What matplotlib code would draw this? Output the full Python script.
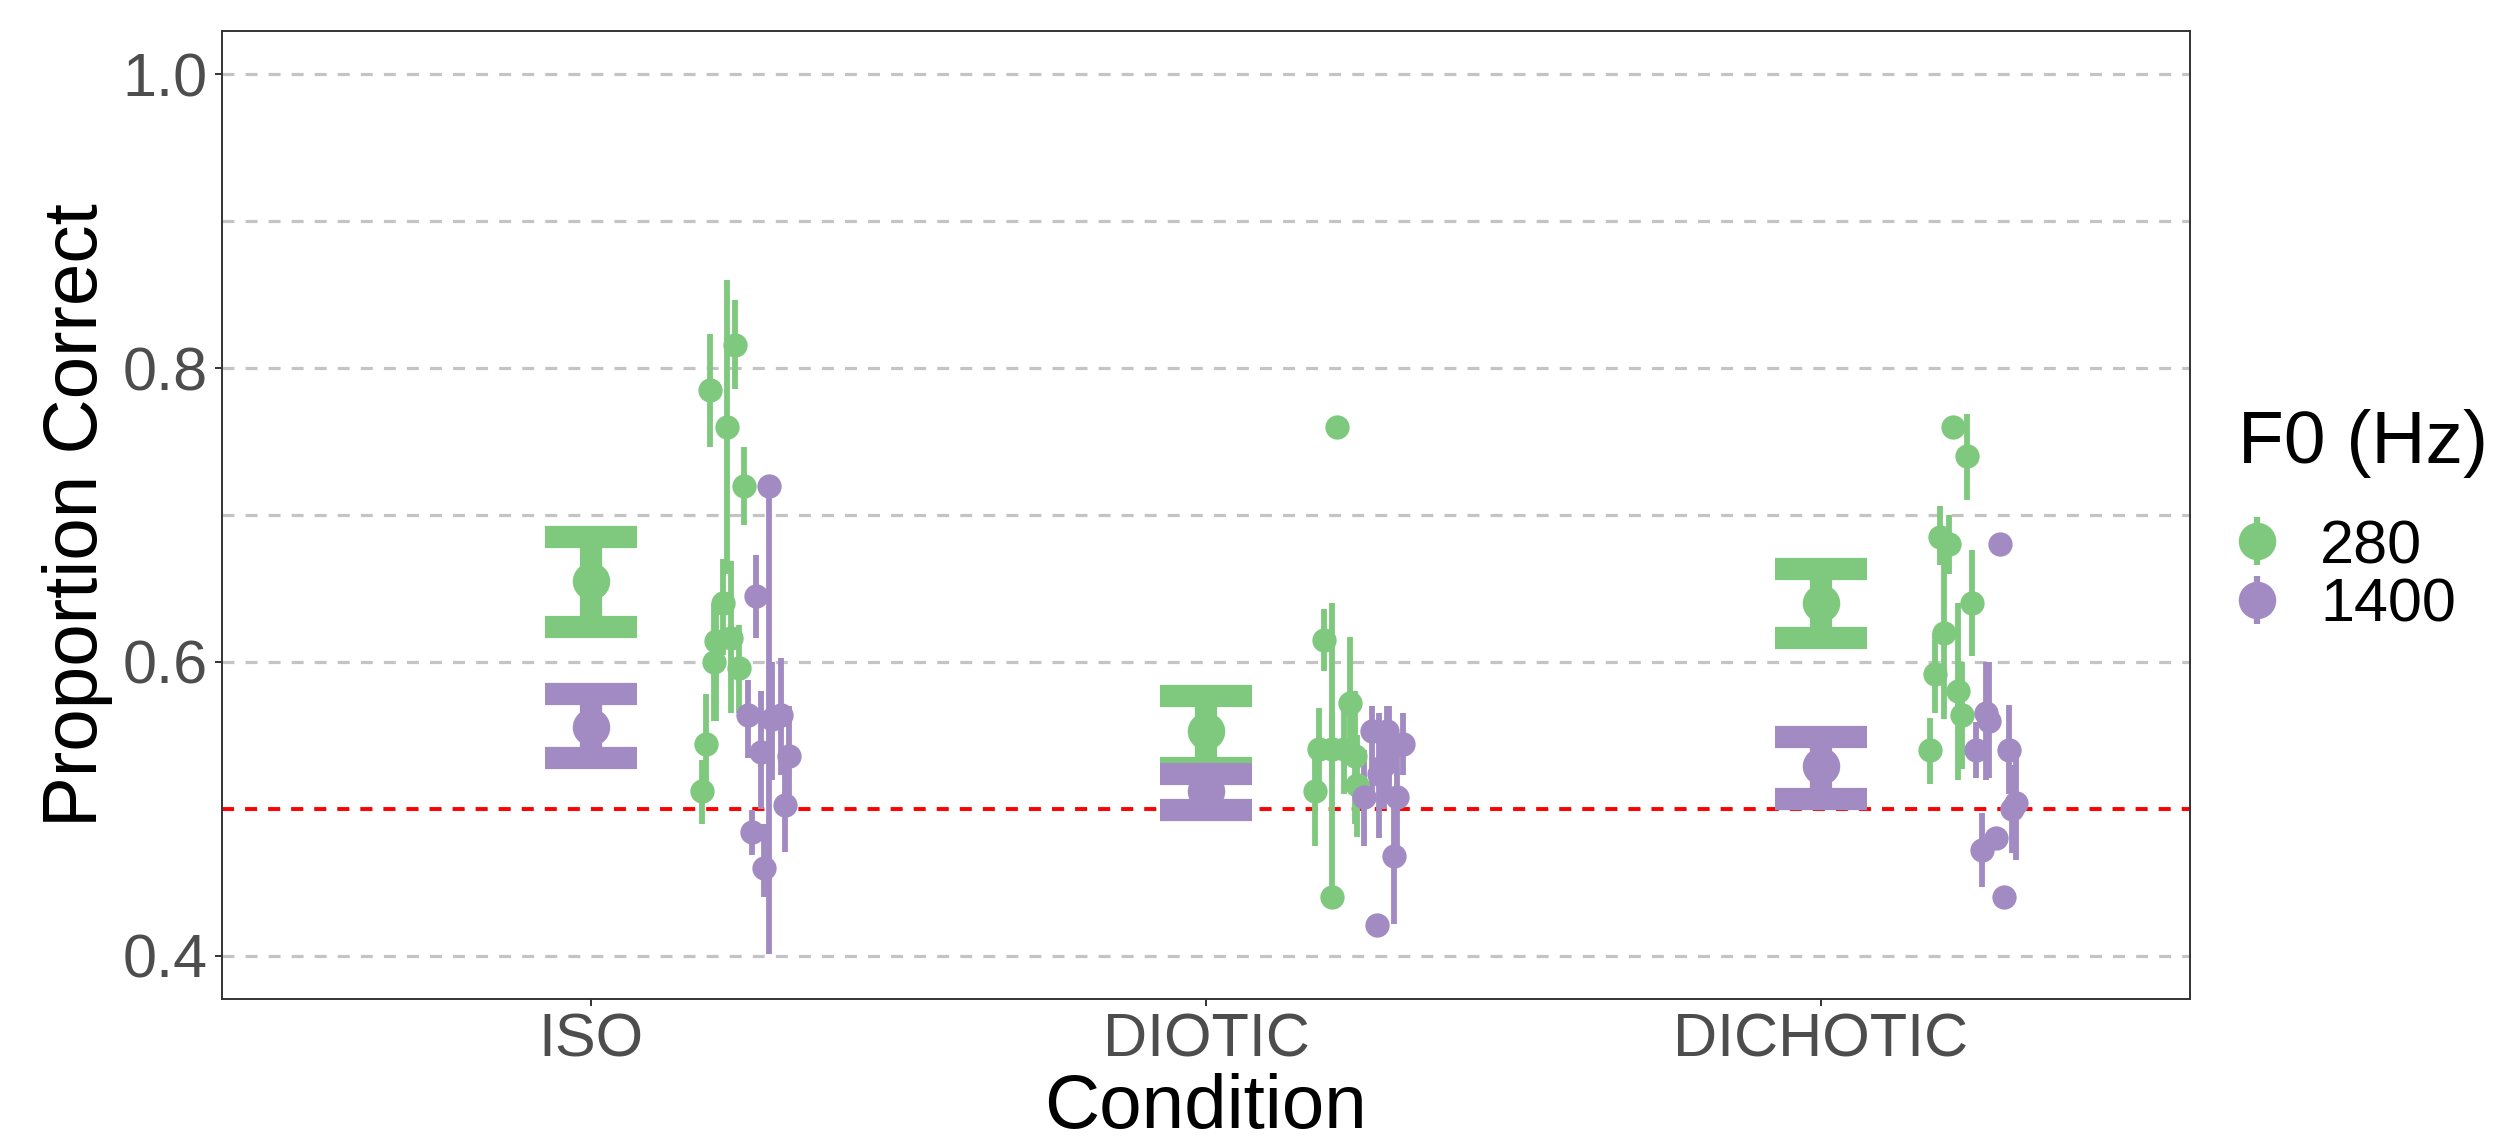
import matplotlib
matplotlib.use('Agg')
import matplotlib.pyplot as plt
import numpy as np

plt.rcParams['font.family'] = ['Liberation Sans', 'DejaVu Sans']
plt.rcParams['lines.scale_dashes'] = False

# ---- data ----
conditions = ['ISO', 'DIOTIC', 'DICHOTIC']
f0_labels = ['280', '1400']

# group means and their intervals
mean_280 = [0.655, 0.553, 0.640]
lo_280 = [0.624, 0.528, 0.616]
hi_280 = [0.685, 0.577, 0.663]
mean_1400 = [0.556, 0.512, 0.529]
lo_1400 = [0.535, 0.499, 0.507]
hi_1400 = [0.578, 0.524, 0.549]

# individual listeners, F0 = 280
iso_280 = [0.785, 0.816, 0.760, 0.720, 0.640, 0.614, 0.616, 0.600, 0.596, 0.544, 0.512]
iso_280_lo = [0.746, 0.786, 0.660, 0.693, 0.605, 0.560, 0.565, 0.560, 0.565, 0.510, 0.490]
iso_280_hi = [0.823, 0.846, 0.860, 0.746, 0.670, 0.640, 0.669, 0.640, 0.625, 0.578, 0.533]
diotic_280 = [0.615, 0.440, 0.572, 0.541, 0.512, 0.541, 0.541, 0.536, 0.516, 0.760]
diotic_280_lo = [0.594, 0.440, 0.530, 0.510, 0.475, 0.520, 0.510, 0.490, 0.481, 0.760]
diotic_280_hi = [0.636, 0.640, 0.617, 0.569, 0.545, 0.565, 0.570, 0.580, 0.550, 0.760]
dichotic_280 = [0.760, 0.740, 0.685, 0.680, 0.640, 0.620, 0.592, 0.580, 0.564, 0.540]
dichotic_280_lo = [0.760, 0.710, 0.666, 0.660, 0.604, 0.561, 0.565, 0.520, 0.527, 0.517]
dichotic_280_hi = [0.760, 0.769, 0.706, 0.700, 0.676, 0.685, 0.620, 0.640, 0.600, 0.562]

# individual listeners, F0 = 1400
iso_1400 = [0.720, 0.645, 0.564, 0.539, 0.460, 0.484, 0.564, 0.561, 0.536, 0.503]
iso_1400_lo = [0.401, 0.616, 0.535, 0.500, 0.440, 0.469, 0.523, 0.520, 0.500, 0.471]
iso_1400_hi = [0.720, 0.673, 0.588, 0.580, 0.490, 0.499, 0.603, 0.600, 0.570, 0.540]
diotic_1400 = [0.553, 0.553, 0.544, 0.508, 0.508, 0.468, 0.421, 0.524, 0.540, 0.530]
diotic_1400_lo = [0.510, 0.520, 0.523, 0.475, 0.470, 0.422, 0.421, 0.480, 0.505, 0.500]
diotic_1400_hi = [0.570, 0.570, 0.565, 0.540, 0.550, 0.510, 0.421, 0.565, 0.570, 0.560]
dichotic_1400 = [0.680, 0.565, 0.560, 0.540, 0.540, 0.504, 0.500, 0.480, 0.472, 0.440]
dichotic_1400_lo = [0.680, 0.520, 0.521, 0.521, 0.510, 0.465, 0.470, 0.480, 0.447, 0.440]
dichotic_1400_hi = [0.680, 0.600, 0.600, 0.559, 0.571, 0.537, 0.530, 0.480, 0.497, 0.440]

# horizontal jitter of the individual points (offset from the category)
jit_iso_280 = [0.194, 0.234, 0.221, 0.248, 0.214, 0.203, 0.228, 0.200, 0.241, 0.187, 0.180]
jit_diotic_280 = [0.192, 0.205, 0.234, 0.184, 0.177, 0.205, 0.224, 0.243, 0.246, 0.213]
jit_dichotic_280 = [0.215, 0.238, 0.193, 0.208, 0.246, 0.200, 0.185, 0.223, 0.230, 0.177]
jit_iso_1400 = [0.290, 0.269, 0.255, 0.276, 0.282, 0.262, 0.309, 0.295, 0.322, 0.316]
jit_diotic_1400 = [0.270, 0.294, 0.320, 0.257, 0.311, 0.306, 0.278, 0.281, 0.298, 0.289]
jit_dichotic_1400 = [0.291, 0.269, 0.273, 0.252, 0.306, 0.317, 0.311, 0.284, 0.261, 0.298]

green = '#7FC97F'
purple = '#A28BC2'

W, H, DPI = 2499, 1142, 100
fig = plt.figure(figsize=(W / DPI, H / DPI), dpi=DPI)
ax = fig.add_axes([222 / W, 1 - 999 / H, (2190 - 222) / W, (999 - 31) / H])

xpos = np.arange(1, len(conditions) + 1)

# group means: thick errorbars with wide caps
cap = 0.075
for means, lo, hi, col in [(mean_280, lo_280, hi_280, green),
                           (mean_1400, lo_1400, hi_1400, purple)]:
    ax.vlines(xpos, lo, hi, colors=col, linewidth=16, capstyle='butt', zorder=3)
    ax.hlines(lo, xpos - cap, xpos + cap, colors=col, linewidth=16, capstyle='butt', zorder=3)
    ax.hlines(hi, xpos - cap, xpos + cap, colors=col, linewidth=16, capstyle='butt', zorder=3)
    ax.plot(xpos, means, 'o', ms=27, color=col, mec='none', zorder=4)

# individual points
groups = [
    (iso_280, iso_280_lo, iso_280_hi, jit_iso_280, 1, green),
    (diotic_280, diotic_280_lo, diotic_280_hi, jit_diotic_280, 2, green),
    (dichotic_280, dichotic_280_lo, dichotic_280_hi, jit_dichotic_280, 3, green),
    (iso_1400, iso_1400_lo, iso_1400_hi, jit_iso_1400, 1, purple),
    (diotic_1400, diotic_1400_lo, diotic_1400_hi, jit_diotic_1400, 2, purple),
    (dichotic_1400, dichotic_1400_lo, dichotic_1400_hi, jit_dichotic_1400, 3, purple),
]
for vals, lo, hi, jit, c, col in groups:
    vals, lo, hi = np.array(vals), np.array(lo), np.array(hi)
    x = c + np.array(jit)
    ax.errorbar(x, vals, yerr=[vals - lo, hi - vals], fmt='o', ms=17.5, mec='none',
                color=col, elinewidth=4.2, capsize=0, zorder=5)

# chance line
ax.axhline(0.5, color='#FF0000', linewidth=2.8, dashes=(8.6, 8), zorder=2)

ax.set_xlim(0.4, 3.6)
ax.set_ylim(0.3707, 1.0293)
ax.set_xticks(xpos)
ax.set_xticklabels(conditions)
ax.set_yticks([0.4, 0.6, 0.8, 1.0])
ax.set_yticklabels(['0.4', '0.6', '0.8', '1.0'])
ax.set_yticks([0.5, 0.7, 0.9], minor=True)
ax.tick_params(axis='y', which='minor', length=0)
ax.tick_params(axis='both', which='major', length=5, width=1.4, color='#333333',
               labelsize=44, labelcolor='#4D4D4D')
ax.tick_params(axis='x', pad=4.5)
ax.tick_params(axis='y', pad=5.5)
ax.set_axisbelow(True)
ax.yaxis.grid(True, which='both', color='#C4C4C4', linewidth=2.3, dashes=(8.6, 8))
ax.xaxis.grid(False)
for s in ax.spines.values():
    s.set_color('#333333')
    s.set_linewidth(1.4)

ax.set_xlabel('Condition', fontsize=55, labelpad=3)
ax.set_ylabel('Proportion Correct', fontsize=55, labelpad=6.5)

# legend drawn on an overlay in pixel coordinates
lax = fig.add_axes([0, 0, 1, 1], facecolor='none')
lax.set_xlim(0, W)
lax.set_ylim(H, 0)
lax.axis('off')
lax.text(2238, 463, 'F0 (Hz)', fontsize=54, va='baseline', ha='left')
for (ky, lab, col) in [(541, f0_labels[0], green), (600, f0_labels[1], purple)]:
    lax.plot([2257, 2257], [ky - 24, ky + 24], color=col, linewidth=4.5, solid_capstyle='butt')
    lax.plot([2257], [ky], 'o', ms=27, color=col, mec='none')
    lax.text(2320, ky + 22, lab, fontsize=44, va='baseline', ha='left')

fig.savefig('out.png', dpi=DPI)
